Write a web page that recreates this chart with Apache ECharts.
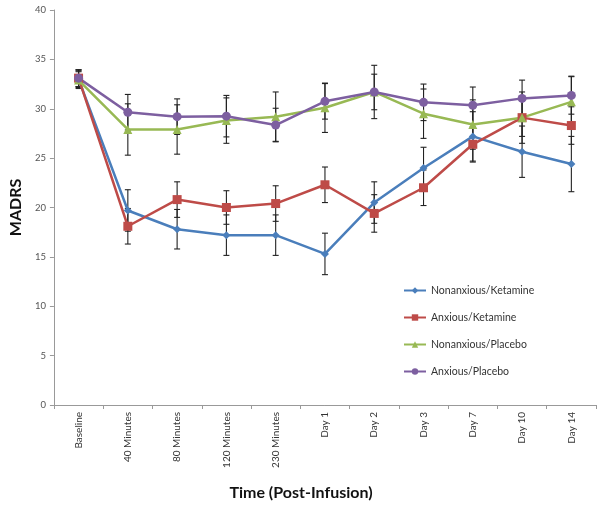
<!DOCTYPE html>
<html>
<head>
<meta charset="utf-8">
<script src="https://cdn.jsdelivr.net/npm/echarts@6/dist/echarts.min.js"></script>
<style>html,body{margin:0;padding:0;background:#fff}#c{width:602px;height:507px}</style>
</head>
<body>
<div id="c"></div>
<script>
var categories = ['Baseline','40 Minutes','80 Minutes','120 Minutes','230 Minutes','Day 1','Day 2','Day 3','Day 7','Day 10','Day 14'];
var seriesNames = ['Nonanxious/Ketamine','Anxious/Ketamine','Nonanxious/Placebo','Anxious/Placebo'];
var nonanxKet = [33.0, 19.7, 17.8, 17.2, 17.2, 15.3, 20.5, 24.0, 27.2, 25.65, 24.4];
var anxKet    = [33.1, 18.1, 20.8, 20.0, 20.4, 22.3, 19.4, 22.0, 26.4, 29.1, 28.3];
var nonanxPla = [32.9, 27.9, 27.9, 28.8, 29.2, 30.1, 31.7, 29.5, 28.4, 29.1, 30.7];
var anxPla    = [33.1, 29.65, 29.2, 29.25, 28.35, 30.75, 31.7, 30.65, 30.35, 31.05, 31.35];
var nonanxKetErr = [0.85, 2.1, 2.0, 2.05, 2.05, 2.1, 2.1, 2.1, 2.5, 2.6, 2.8];
var anxKetErr    = [0.85, 1.8, 1.8, 1.7, 1.8, 1.8, 1.9, 1.8, 1.8, 1.9, 1.9];
var nonanxPlaErr = [0.85, 2.6, 2.5, 2.3, 2.5, 2.5, 2.7, 2.5, 2.5, 2.6, 2.6];
var anxPlaErr    = [0.85, 1.8, 1.8, 2.1, 1.7, 1.8, 1.8, 1.85, 1.85, 1.85, 1.9];
var yTicks = [0, 5, 10, 15, 20, 25, 30, 35, 40];

var colors = ['#4A7EBB', '#BE4B48', '#98B954', '#7D5FA0'];
var symbols = ['diamond', 'rect', 'triangle', 'circle'];
var symbolSizes = [8, 9, 9, 9];
var values = [nonanxKet, anxKet, nonanxPla, anxPla];
var errs = [nonanxKetErr, anxKetErr, nonanxPlaErr, anxPlaErr];
var FONT = 'Lato, "Open Sans", sans-serif';

var series = [];
values.forEach(function (vals, s) {
  var errData = vals.map(function (v, i) { return [i, v - errs[s][i], v + errs[s][i]]; });
  series.push({
    type: 'custom',
    name: seriesNames[s] + ' err',
    z: 1,
    silent: true,
    renderItem: function (params, api) {
      var lo = api.coord([api.value(0), api.value(1)]);
      var hi = api.coord([api.value(0), api.value(2)]);
      var w = 3;
      var st = { stroke: '#222', lineWidth: 1.1 };
      return {
        type: 'group',
        children: [
          { type: 'line', shape: { x1: lo[0], y1: lo[1], x2: hi[0], y2: hi[1] }, style: st },
          { type: 'line', shape: { x1: lo[0] - w, y1: lo[1], x2: lo[0] + w, y2: lo[1] }, style: st },
          { type: 'line', shape: { x1: hi[0] - w, y1: hi[1], x2: hi[0] + w, y2: hi[1] }, style: st }
        ]
      };
    },
    encode: { x: 0, y: [1, 2] },
    data: errData
  });
});
values.forEach(function (vals, s) {
  series.push({
    type: 'line',
    name: seriesNames[s],
    data: vals,
    z: 3,
    symbol: symbols[s],
    symbolSize: symbolSizes[s],
    showAllSymbol: true,
    lineStyle: { color: colors[s], width: 2.5 },
    itemStyle: { color: colors[s] },
    emphasis: { disabled: true }
  });
});

var chart = echarts.init(document.getElementById('c'), null, { renderer: 'canvas' });
chart.setOption({
  animation: false,
  backgroundColor: '#fff',
  title: {
    text: 'Time (Post-Infusion)',
    left: 'center',
    top: 480,
    textStyle: { fontFamily: FONT, fontSize: 16, fontWeight: 'bold', color: '#111' }
  },
  grid: { left: 46, right: 6, top: 10, bottom: 102 },
  legend: {
    orient: 'vertical',
    left: 398,
    top: 279,
    itemGap: 14,
    itemWidth: 22,
    itemHeight: 8,
    data: seriesNames,
    textStyle: { fontFamily: FONT, fontSize: 10.5, color: '#333', lineHeight: 13 }
  },
  xAxis: {
    type: 'category',
    data: categories,
    boundaryGap: true,
    axisLine: { lineStyle: { color: '#999', width: 1 } },
    axisTick: { show: true, length: 4, lineStyle: { color: '#999' } },
    axisLabel: { rotate: 90, fontFamily: FONT, fontSize: 10, color: '#333', margin: 7, interval: 0 }
  },
  yAxis: {
    type: 'value',
    min: 0,
    max: 40,
    interval: 5,
    name: 'MADRS',
    nameLocation: 'middle',
    nameGap: 24,
    nameRotate: 90,
    nameTextStyle: { fontFamily: FONT, fontSize: 16, fontWeight: 'bold', color: '#111' },
    axisLine: { show: true, lineStyle: { color: '#999', width: 1 } },
    axisTick: { show: true, length: 4, inside: false, lineStyle: { color: '#999' } },
    splitLine: { show: false },
    axisLabel: {
      fontFamily: FONT, fontSize: 9.5, color: '#555', margin: 8,
      formatter: function (v) { return yTicks.indexOf(v) >= 0 ? String(v) : ''; }
    }
  },
  series: series
});
</script>
</body>
</html>
